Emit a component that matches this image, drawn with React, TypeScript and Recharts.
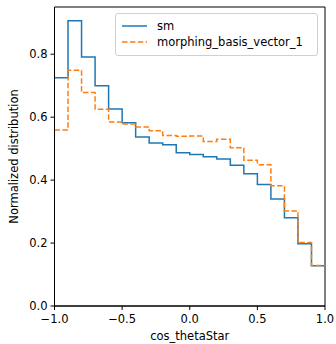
import {
  LineChart,
  Line,
  XAxis,
  YAxis,
  ReferenceArea,
} from 'recharts'

// bin edges; last entry is the right edge of the final bin
const edges = [-1, -0.9, -0.8, -0.7, -0.6, -0.5, -0.4, -0.3, -0.2, -0.1, 0, 0.1, 0.2, 0.3, 0.4, 0.5, 0.6, 0.7, 0.8, 0.9, 1]
const sm = [0.725, 0.906, 0.791, 0.7, 0.626, 0.582, 0.537, 0.518, 0.512, 0.487, 0.481, 0.474, 0.467, 0.447, 0.42, 0.386, 0.34, 0.28, 0.198, 0.128]
const morphing = [0.559, 0.749, 0.678, 0.625, 0.585, 0.578, 0.569, 0.557, 0.542, 0.539, 0.54, 0.523, 0.53, 0.503, 0.463, 0.449, 0.382, 0.302, 0.202, 0.129]
const xTicks = [-1, -0.5, 0, 0.5, 1]
const yTicks = [0, 0.2, 0.4, 0.6, 0.8]

const data = edges.map((x, i) => ({
  x,
  sm: i < sm.length ? sm[i] : sm[sm.length - 1],
  morphing: i < morphing.length ? morphing[i] : morphing[morphing.length - 1],
}))

const font = 'DejaVu Sans, sans-serif'
const fs = 11.5
const fmt = (v: number) => v.toFixed(1).replace('-', '\u2212')

const legendItems = [
  { name: 'sm', color: '#1f77b4', dash: undefined },
  { name: 'morphing_basis_vector_1', color: '#ff7f0e', dash: '5.5 2.4' },
]

export default function App() {
  return (
    <div style={{ position: 'absolute', left: 0, top: 0, width: 336, height: 344, background: '#fff' }}>
      <LineChart width={336} height={344} data={data} margin={{ top: 7, right: 11, bottom: 0, left: 0 }}>
        <XAxis
          dataKey="x"
          type="number"
          domain={[-1, 1]}
          ticks={xTicks}
          tickFormatter={fmt}
          height={38}
          stroke="#000"
          tickSize={4}
          tickMargin={5}
          tick={{ fill: '#000', fontSize: fs, fontFamily: font }}
          label={{ value: 'cos_thetaStar', position: 'insideBottom', offset: 4, fill: '#000', fontSize: fs, fontFamily: font }}
        />
        <YAxis
          type="number"
          domain={[0, 0.95]}
          ticks={yTicks}
          tickFormatter={(v: number) => v.toFixed(1)}
          width={54.5}
          stroke="#000"
          tickSize={4}
          tickMargin={3}
          tick={{ fill: '#000', fontSize: fs, fontFamily: font }}
          label={{ value: 'Normalized distribution', angle: -90, position: 'insideLeft', offset: 14, style: { textAnchor: 'middle' }, fill: '#000', fontSize: fs, fontFamily: font }}
        />
        <ReferenceArea x1={-1} x2={1} y1={0} y2={0.95} fill="none" stroke="#000" strokeWidth={1} />
        <Line
          type="stepAfter"
          dataKey="sm"
          stroke="#1f77b4"
          strokeWidth={1.5}
          dot={false}
          isAnimationActive={false}
        />
        <Line
          type="stepAfter"
          dataKey="morphing"
          stroke="#ff7f0e"
          strokeWidth={1.5}
          strokeDasharray="5.5 2.4"
          dot={false}
          isAnimationActive={false}
        />
      </LineChart>
      <div
        style={{
          position: 'absolute',
          left: 115,
          top: 13,
          width: 203,
          height: 43,
          boxSizing: 'border-box',
          border: '1px solid #d0d0d0',
          borderRadius: 3,
          background: 'rgba(255,255,255,0.8)',
          padding: '4px 0 0 6px',
          fontFamily: font,
          fontSize: fs,
          color: '#000',
          whiteSpace: 'nowrap',
        }}
      >
        {legendItems.map((e) => (
          <div key={e.name} style={{ display: 'flex', alignItems: 'center', height: 16 }}>
            <svg width={25} height={6} style={{ marginRight: 10 }}>
              <line x1={0} y1={3} x2={25} y2={3} stroke={e.color} strokeWidth={1.5} strokeDasharray={e.dash} />
            </svg>
            <span>{e.name}</span>
          </div>
        ))}
      </div>
    </div>
  )
}
